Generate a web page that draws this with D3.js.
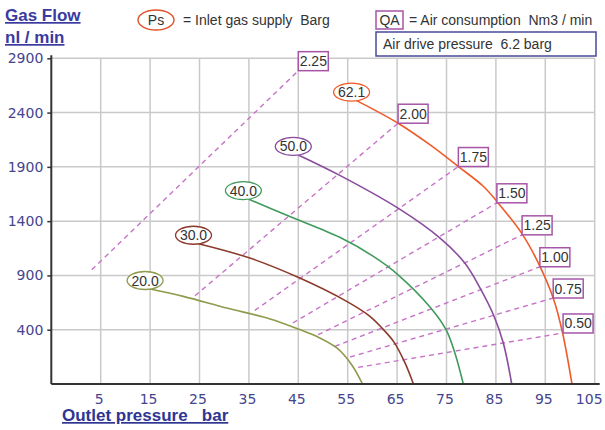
<!DOCTYPE html>
<html><head><meta charset="utf-8">
<script src="https://cdn.jsdelivr.net/npm/d3@7"></script>
<style>
html,body{margin:0;padding:0;background:#fff;}
svg{display:block;}
text{white-space:pre;}
</style></head>
<body><svg id="c" width="605" height="430"></svg>
<script>
// ---- data ----
const xTicks = [5, 15, 25, 35, 45, 55, 65, 75, 85, 95, 105];
const yTicks = [400, 900, 1400, 1900, 2400, 2900];

const curveLabels = ["20.0", "30.0", "40.0", "50.0", "62.1"];
const curveColors = ["#8f9a4c", "#8c3a2c", "#3f9a5c", "#8a4c9e", "#f05a2a"];
const curve20 = [[15.0,775],[21.7,707],[30.5,600],[39.3,499],[45.3,401],[48.7,339],[52.8,232],[55.8,78],[58.0,-100]];
const curve30 = [[24.8,1192],[35.2,1060],[45.3,876],[54.8,661],[59.5,523],[62.0,412],[64.3,290],[66.6,94],[68.3,-100]];
const curve40 = [[34.9,1603],[43.3,1443],[53.4,1251],[60.2,1075],[65.2,906],[71.7,607],[74.9,401],[76.7,186],[78.4,-100]];
const curve50 = [[45.0,2010],[53.4,1822],[65.2,1520],[73.7,1244],[78.7,1014],[81.8,784],[84.5,538],[86.5,278],[88.2,-100]];
const curve62 = [[56.8,2510],[65.2,2302],[71.7,2102],[77.4,1903],[82.5,1719],[85.2,1581],[90.2,1290],[93.6,1014],[96.6,692],[98.5,370],[100.4,-100]];

const qaLabels = ["2.25", "2.00", "1.75", "1.50", "1.25", "1.00", "0.75", "0.50"];
const qaStart = [[3.2,952],[24.1,713],[36.2,578],[43.9,462],[49.0,354],[52.4,247],[55.5,149],[57.1,53]];
const qaEnd = [[45.0,2786],[65.2,2302],[77.4,1903],[85.2,1569],[90.3,1274],[93.9,980],[96.6,692],[98.6,370]];

// ---- chart ----
const svg = d3.select("#c");
const x = d3.scaleLinear().domain([-5, 105]).range([51.3, 594.7]);
const y = d3.scaleLinear().domain([-100, 2900]).range([384, 58.3]);
const curves = [curve20, curve30, curve40, curve50, curve62];

// grid
svg.append("g").selectAll("line").data(xTicks).join("line")
  .attr("x1", d => x(d)).attr("x2", d => x(d))
  .attr("y1", y(2900)).attr("y2", y(-100))
  .attr("stroke", "#c9c9c9").attr("stroke-width", 1.5);
svg.append("g").selectAll("line").data(yTicks).join("line")
  .attr("x1", x(-5)).attr("x2", x(105))
  .attr("y1", d => y(d)).attr("y2", d => y(d))
  .attr("stroke", "#c9c9c9").attr("stroke-width", 1.5);

// dashed QA lines
svg.append("g").selectAll("line").data(qaLabels).join("line")
  .attr("x1", (d, i) => x(qaStart[i][0])).attr("y1", (d, i) => y(qaStart[i][1]))
  .attr("x2", (d, i) => x(qaEnd[i][0])).attr("y2", (d, i) => y(qaEnd[i][1]))
  .attr("stroke", "#c774c7").attr("stroke-width", 1.4).attr("stroke-dasharray", "5,4");

// curves
const line = d3.line().x(d => x(d[0])).y(d => y(d[1])).curve(d3.curveCatmullRom.alpha(0.5));
svg.append("g").selectAll("path").data(curves).join("path")
  .attr("d", line).attr("fill", "none")
  .attr("stroke", (d, i) => curveColors[i]).attr("stroke-width", 1.6);

// axes
const yAxis = d3.axisLeft(y).tickValues(yTicks).tickFormat(d3.format("d")).tickSize(4).tickPadding(4);
const gy = svg.append("g").attr("transform", `translate(${x(-5)},0)`).call(yAxis);
gy.select(".domain").attr("d", `M0,${y(-100)}V${y(2900) - 3}`).attr("stroke", "#333").attr("stroke-width", 2);
gy.selectAll(".tick line").attr("stroke", "#333").attr("stroke-width", 1.5);
gy.selectAll(".tick text").attr("font-family", "DejaVu Sans").attr("font-size", 14).attr("fill", "#45458e");

const xAxis = d3.axisBottom(x).tickValues(xTicks).tickFormat(d3.format("d")).tickSize(0).tickPadding(10);
const gx = svg.append("g").attr("transform", `translate(0,${y(-100)})`).call(xAxis);
gx.select(".domain").attr("d", `M${x(-5)},0H${x(105) + 5}`).attr("stroke", "#333").attr("stroke-width", 2);
gx.selectAll(".tick text").attr("font-family", "DejaVu Sans").attr("font-size", 14).attr("fill", "#45458e")
  .attr("dx", d => d === 105 ? -6 : -2);

// curve labels (ellipses)
const lab = svg.append("g").selectAll("g").data(curves).join("g")
  .attr("transform", d => `translate(${x(d[0][0]) - 5},${y(d[0][1]) - 8.5})`);
lab.append("ellipse").attr("rx", 18).attr("ry", 9).attr("fill", "#fff")
  .attr("stroke", (d, i) => curveColors[i]).attr("stroke-width", 1.3);
lab.append("text").text((d, i) => curveLabels[i]).attr("text-anchor", "middle").attr("dy", 5)
  .attr("font-family", "Liberation Sans").attr("font-size", 14).attr("fill", "#333");

// QA label boxes
const qb = svg.append("g").selectAll("g").data(qaLabels).join("g")
  .attr("transform", (d, i) => `translate(${x(qaEnd[i][0])},${y(qaEnd[i][1])})`);
qb.append("rect").attr("x", 0).attr("y", -19).attr("width", 30).attr("height", 19)
  .attr("fill", "#fff").attr("stroke", "#a655a6").attr("stroke-width", 1.5);
qb.append("text").text(d => d).attr("x", 15).attr("y", -4.5).attr("text-anchor", "middle")
  .attr("font-family", "Liberation Sans").attr("font-size", 14).attr("fill", "#333");

// titles
svg.append("text").text("Gas Flow").attr("x", 5).attr("y", 21)
  .attr("font-family", "Liberation Sans").attr("font-weight", "bold").attr("font-size", 17)
  .attr("fill", "#3a3aa0").attr("text-decoration", "underline");
svg.append("text").text("nl / min").attr("x", 5).attr("y", 43)
  .attr("font-family", "Liberation Sans").attr("font-weight", "bold").attr("font-size", 17)
  .attr("fill", "#3a3aa0").attr("text-decoration", "underline");
svg.append("text").text("Outlet pressure   bar").attr("x", 62).attr("y", 421)
  .attr("font-family", "Liberation Sans").attr("font-weight", "bold").attr("font-size", 17)
  .attr("fill", "#2e3592").attr("text-decoration", "underline");

// legend
svg.append("ellipse").attr("cx", 156).attr("cy", 20).attr("rx", 18).attr("ry", 10)
  .attr("fill", "#fff").attr("stroke", "#e0502a").attr("stroke-width", 1.4);
svg.append("text").text("Ps").attr("x", 156).attr("y", 25).attr("text-anchor", "middle")
  .attr("font-family", "Liberation Sans").attr("font-size", 14).attr("fill", "#333");
svg.append("text").text("= Inlet gas supply  Barg").attr("x", 183).attr("y", 25)
  .attr("font-family", "Liberation Sans").attr("font-size", 14).attr("fill", "#333");
svg.append("rect").attr("x", 376).attr("y", 11).attr("width", 27).attr("height", 18)
  .attr("fill", "#fff").attr("stroke", "#a655a6").attr("stroke-width", 1.5);
svg.append("text").text("QA").attr("x", 389.5).attr("y", 25).attr("text-anchor", "middle")
  .attr("font-family", "Liberation Sans").attr("font-size", 14).attr("fill", "#333");
svg.append("text").text("= Air consumption  Nm3 / min").attr("x", 409).attr("y", 25)
  .attr("font-family", "Liberation Sans").attr("font-size", 14).attr("fill", "#333");
svg.append("rect").attr("x", 376).attr("y", 32).attr("width", 220).attr("height", 24)
  .attr("fill", "#fff").attr("stroke", "#4a4a96").attr("stroke-width", 1.5);
svg.append("text").text("Air drive pressure  6.2 barg").attr("x", 383).attr("y", 49)
  .attr("font-family", "Liberation Sans").attr("font-size", 14).attr("fill", "#333");
</script></body></html>
